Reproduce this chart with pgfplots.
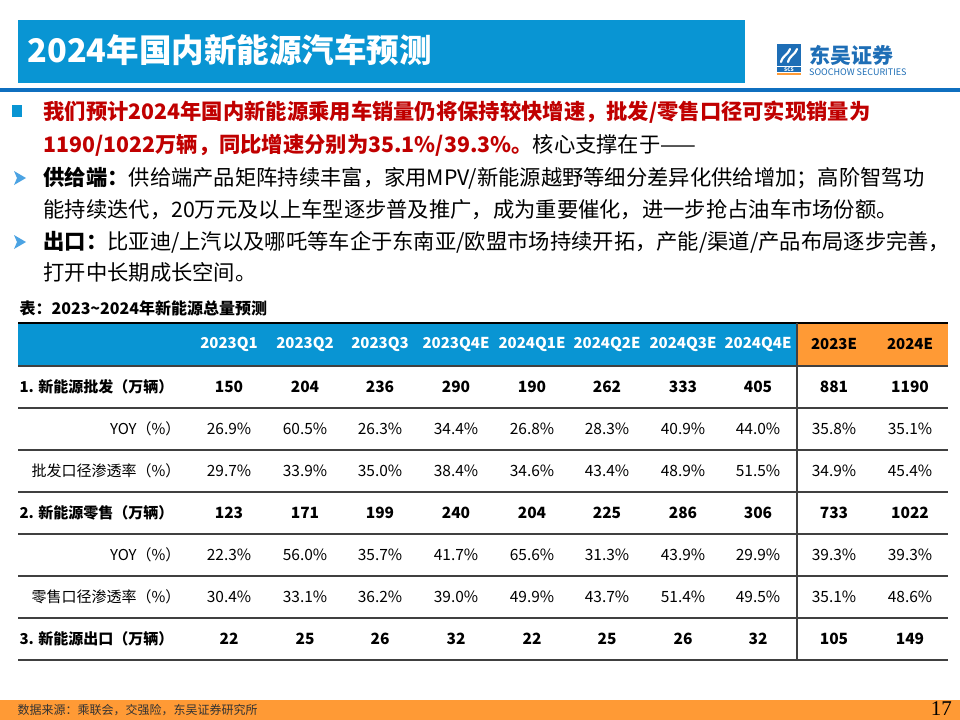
\documentclass[border=0pt]{standalone}
\usepackage{fontspec}
\setmainfont{Noto Sans CJK SC}
\newfontfamily\pagefont{Liberation Serif}
\usepackage{pgfplots}
\usepackage{pgfplotstable}
\pgfplotsset{compat=1.18}

\definecolor{hdrblue}{HTML}{0995D3}
\definecolor{lineblue}{HTML}{0F6FBF}
\definecolor{orng}{HTML}{FF9A35}
\definecolor{redtxt}{HTML}{C00000}
\definecolor{logoblue}{HTML}{1E6EB6}
\definecolor{arrowblue}{HTML}{4BA3E3}
\definecolor{rule}{HTML}{404040}

\newcommand\fsz[1]{\fontsize{#1bp}{#1bp}\selectfont}

% x = column centre (px), then the table values
\pgfplotstableread{
x   hdr      pf    pfyoy  pfpen  ls    lsyoy  lspen  ck
229 2023Q1   150   26.9   29.7   123   22.3   30.4   22
305 2023Q2   204   60.5   33.9   171   56.0   33.1   25
380 2023Q3   236   26.3   35.0   199   35.7   36.2   26
456 2023Q4E  290   34.4   38.4   240   41.7   39.0   32
532 2024Q1E  190   26.8   34.6   204   65.6   49.9   22
607 2024Q2E  262   28.3   43.4   225   31.3   43.7   25
683 2024Q3E  333   40.9   48.9   286   43.9   51.4   26
758 2024Q4E  405   44.0   51.5   306   29.9   49.5   32
834 2023E    881   35.8   34.9   733   39.3   35.1   105
910 2024E    1190  35.1   45.4   1022  39.3   48.6   149
}\tbl

\pgfplotsset{
  lab/.style={only marks, mark=*, mark size=0pt, mark options={draw=none,fill=none},
    nodes near coords, nodes near coords align=center},
  cnt/.style={lab, point meta=explicit,
    nodes near coords={\pgfmathprintnumber[fixed,precision=0]{\pgfplotspointmeta}},
    every node near coord/.append style={font=\fsz{15.5}\bfseries, text=black}},
  pct/.style={lab, point meta=explicit,
    nodes near coords={\pgfmathprintnumber[fixed,fixed zerofill,precision=1]{\pgfplotspointmeta}\%},
    every node near coord/.append style={font=\fsz{15.5}, text=black}},
}

\begin{document}
\begin{tikzpicture}
\begin{axis}[
  width=960bp, height=720bp, scale only axis,
  xmin=0, xmax=960, ymin=0, ymax=720, y dir=reverse,
  axis lines=none, ticks=none, clip=false,
  /pgf/number format/assume math mode=true,
  /pgf/number format/1000 sep={},
]
\fill[white] (0,0) rectangle (960,720);

% title bar and logo
\fill[hdrblue] (18,20) rectangle (745,83);
\node[anchor=west, text=white, font=\fsz{32.5}\bfseries] at (24,50) {2024年国内新能源汽车预测};
\fill[lineblue] (0,88) rectangle (960,92);
\fill[logoblue] (777,44) rectangle (801,66);
\draw[white, line width=2.2bp, line cap=round] (781,62) .. controls (783,55) and (787,56) .. (790,49);
\draw[white, line width=2.2bp, line cap=round] (788,62) .. controls (790,55) and (794,56) .. (797,49);
\fill[logoblue] (777,67) rectangle (801,72);
\node[text=white, font=\fsz{5}\bfseries, inner sep=0] at (789,69.5) {SCS};
\fill[orng] (777,73) rectangle (801,75);
\node[anchor=west, text=logoblue, font=\fsz{21}\bfseries, inner sep=0] at (809,55) {东吴证券};
\node[anchor=west, text=logoblue, font=\fsz{9}, inner sep=0] at (809,72) {SOOCHOW SECURITIES};

% bullets
\fill[hdrblue] (12,105) rectangle (22,117);
\node[anchor=west, font=\fsz{21.3}\bfseries, text=redtxt] at (40,112)
  {我们预计2024年国内新能源乘用车销量仍将保持较快增速，批发/零售口径可实现销量为};
\node[anchor=west, font=\fsz{21.3}] at (40,145)
  {\textcolor{redtxt}{\bfseries 1190/1022万辆，同比增速分别为35.1\%/39.3\%。}核心支撑在于——};
\fill[arrowblue] (14,171) -- (26,178) -- (14,185) -- (17,178) -- cycle;
\node[anchor=west, font=\fsz{21.3}] at (40,178)
  {\textbf{供给端：}供给端产品矩阵持续丰富，家用MPV/新能源越野等细分差异化供给增加；高阶智驾功};
\node[anchor=west, font=\fsz{21.3}] at (40,210)
  {能持续迭代，20万元及以上车型逐步普及推广，成为重要催化，进一步抢占油车市场份额。};
\fill[arrowblue] (14,235) -- (26,242) -- (14,249) -- (17,242) -- cycle;
\node[anchor=west, font=\fsz{21.3}] at (40,242)
  {\textbf{出口：}比亚迪/上汽以及哪吒等车企于东南亚/欧盟市场持续开拓，产能/渠道/产品布局逐步完善，};
\node[anchor=west, font=\fsz{21.3}] at (40,272) {打开中长期成长空间。};

% table
\node[anchor=west, font=\fsz{16}\bfseries] at (16,308) {表：2023\textasciitilde 2024年新能源总量预测};
\fill[hdrblue] (18,323) rectangle (797,366);
\fill[orng] (797,323) rectangle (948,366);
\draw[black, line width=1.6bp] (18,323) -- (948,323);
\pgfplotsinvokeforeach{366,408,450,492,534,576,618,660}{
  \draw[rule, line width=1.6bp] (18,#1) -- (948,#1);
}
\draw[rule, line width=1.6bp] (797,323) -- (797,660);

\node[anchor=west, font=\fsz{15}\bfseries] at (16,387) {1. 新能源批发（万辆）};
\node[anchor=east, font=\fsz{15}] at (184,429) {YOY（\%）};
\node[anchor=east, font=\fsz{15}] at (184,471) {批发口径渗透率（\%）};
\node[anchor=west, font=\fsz{15}\bfseries] at (16,513) {2. 新能源零售（万辆）};
\node[anchor=east, font=\fsz{15}] at (184,555) {YOY（\%）};
\node[anchor=east, font=\fsz{15}] at (184,597) {零售口径渗透率（\%）};
\node[anchor=west, font=\fsz{15}\bfseries] at (16,639) {3. 新能源出口（万辆）};

\addplot[lab, point meta=explicit symbolic, restrict x to domain=0:800,
  every node near coord/.append style={font=\fsz{15}\bfseries, text=white}]
  table[x=x, y expr=344.5, meta=hdr] {\tbl};
\addplot[lab, point meta=explicit symbolic, restrict x to domain=800:960,
  every node near coord/.append style={font=\fsz{15}\bfseries, text=black}]
  table[x=x, y expr=344.5, meta=hdr] {\tbl};
\addplot[cnt] table[x=x, y expr=387, meta=pf] {\tbl};
\addplot[pct] table[x=x, y expr=429, meta=pfyoy] {\tbl};
\addplot[pct] table[x=x, y expr=471, meta=pfpen] {\tbl};
\addplot[cnt] table[x=x, y expr=513, meta=ls] {\tbl};
\addplot[pct] table[x=x, y expr=555, meta=lsyoy] {\tbl};
\addplot[pct] table[x=x, y expr=597, meta=lspen] {\tbl};
\addplot[cnt] table[x=x, y expr=639, meta=ck] {\tbl};

% footer
\fill[orng] (0,700) rectangle (960,720);
\node[anchor=west, font=\fsz{12}, text=black!80] at (14,710) {数据来源：乘联会，交强险，东吴证券研究所};
\node[anchor=east, font=\pagefont\fsz{21}, inner sep=0] at (952,709) {17};
\end{axis}
\pgfresetboundingbox
\path (0,0) rectangle (960bp,720bp);
\end{tikzpicture}
\end{document}
